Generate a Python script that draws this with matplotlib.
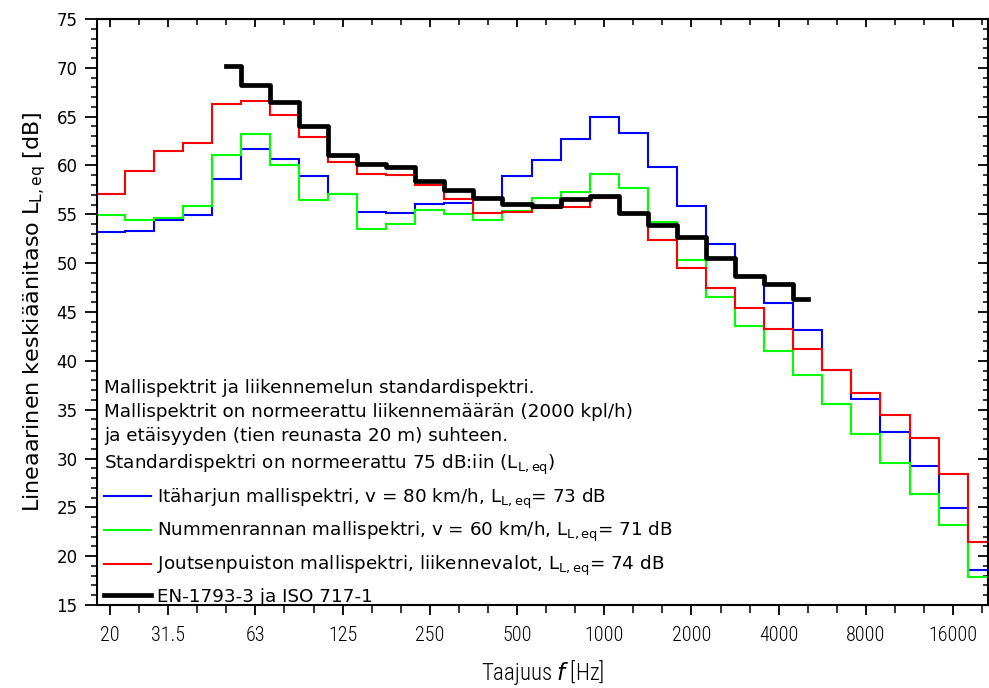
import numpy as np
import matplotlib.pyplot as plt
from matplotlib import font_manager
from matplotlib.lines import Line2D

# terssikaistat 20 Hz ... 20 kHz
bands = ["20", "25", "31.5", "40", "50", "63", "80", "100", "125", "160",
         "200", "250", "315", "400", "500", "630", "800", "1000", "1250", "1600",
         "2000", "2500", "3150", "4000", "5000", "6300", "8000", "10000", "12500",
         "16000", "20000"]
shown = ["20", "31.5", "63", "125", "250", "500", "1000", "2000", "4000",
         "8000", "16000"]

itaharju = [53.15, 53.3, 54.4, 54.95, 58.6, 61.7, 60.65, 58.9, 57.05, 55.25,
            55.1, 56.1, 56.15, 56.6, 58.9, 60.6, 62.7, 65.0, 63.3, 59.8,
            55.9, 52.0, 48.7, 45.95, 43.2, 39.1, 36.1, 32.7, 29.2, 24.9, 18.6]
nummenranta = [54.9, 54.4, 54.6, 55.9, 61.1, 63.2, 60.0, 56.5, 57.1, 53.5,
               54.0, 55.4, 55.0, 54.4, 55.3, 56.7, 57.3, 59.1, 57.65, 54.2,
               50.3, 46.55, 43.55, 41.05, 38.5, 35.6, 32.5, 29.55, 26.4, 23.15, 17.9]
joutsenpuisto = [57.05, 59.4, 61.5, 62.3, 66.3, 66.6, 65.2, 62.9, 60.35, 59.15,
                 59.0, 58.05, 56.6, 55.1, 55.25, 55.65, 55.7, 56.65, 55.05, 52.4,
                 49.5, 47.5, 45.4, 43.3, 41.2, 39.05, 36.7, 34.45, 32.1, 28.4, 21.5]
# standardispektri 50 Hz ... 5000 Hz
standardi = [70.2, 68.25, 66.45, 64.0, 61.05, 60.2, 59.8, 58.45, 57.5, 56.7,
             56.05, 55.85, 56.6, 56.9, 55.1, 53.9, 52.65, 50.5, 48.65, 47.85, 46.35]
std_first = bands.index("50")

# kapea fontti x-akselille, jos sellainen löytyy
names = {f.name for f in font_manager.fontManager.ttflist}
narrow = next((n for n in ["Liberation Sans Narrow", "Roboto Condensed",
                           "Open Sans Condensed", "DejaVu Sans Condensed"]
               if n in names), None)
if narrow:
    xfont = dict(family=narrow, weight='light')
else:
    xfont = dict(family="DejaVu Sans", stretch="condensed")

x = np.arange(len(bands))
edges = np.arange(len(bands) + 1) - 0.5
xs = x[std_first:std_first + len(standardi)]

fig = plt.figure(figsize=(9.89, 6.88), dpi=100)
ax = fig.add_axes([0.098, 0.1206, 0.901, 0.8518])

ax.stairs(itaharju, edges, baseline=None, color='#0000ff', lw=1.5)
ax.stairs(nummenranta, edges, baseline=None, color='#00ff00', lw=1.5)
ax.stairs(joutsenpuisto, edges, baseline=None, color='#ff0000', lw=1.5)
ax.step(xs, standardi, where='mid', color='k', lw=3.4)

ax.set_xlim(-0.45, 30.2)
ax.set_ylim(15, 75)

major_x = [bands.index(b) for b in shown]
ax.set_xticks(major_x)
ax.set_xticklabels(shown, fontsize=14.5, **xfont)
ax.set_xticks(x, minor=True)
ax.set_yticks(np.arange(15, 76, 5))
ax.set_yticks(np.arange(15, 76, 1), minor=True)
ax.tick_params(axis='y', which='major', direction='out', length=8.5, width=1.3,
               pad=5.5, labelsize=12)
ax.tick_params(axis='y', which='minor', direction='out', length=4.3, width=1.1)
ax.tick_params(axis='x', which='major', direction='out', length=7, width=1.3, pad=8)
ax.tick_params(axis='x', which='minor', direction='out', length=6, width=1.1)
for sp in ax.spines.values():
    sp.set_linewidth(1.5)

top = ax.secondary_xaxis('top')
top.set_xticks(major_x)
top.set_xticks(x, minor=True)
top.tick_params(which='major', direction='in', length=6, width=1.3, labeltop=False)
top.tick_params(which='minor', direction='in', length=4, width=1.1)
right = ax.secondary_yaxis('right')
right.set_yticks(np.arange(15, 76, 5))
right.set_yticks(np.arange(15, 76, 1), minor=True)
right.tick_params(which='major', direction='in', length=7, width=1.3, labelright=False)
right.tick_params(which='minor', direction='in', length=3.5, width=1.1)

ax.set_ylabel(r"Lineaarinen keskiäänitaso L$_{\mathregular{L,eq}}$ [dB]",
              fontsize=16, labelpad=6)
ax.set_xlabel(r"Taajuus $f$ [Hz]", fontsize=16.5, labelpad=9, **xfont)

handles = [Line2D([], [], color='#0000ff', lw=1.5),
           Line2D([], [], color='#00ff00', lw=1.5),
           Line2D([], [], color='#ff0000', lw=1.5),
           Line2D([], [], color='k', lw=3.4)]
labels = [r"Itäharjun mallispektri, v = 80 km/h, L$_{\mathregular{L,eq}}$= 73 dB",
          r"Nummenrannan mallispektri, v = 60 km/h, L$_{\mathregular{L,eq}}$= 71 dB",
          r"Joutsenpuiston mallispektri, liikennevalot, L$_{\mathregular{L,eq}}$= 74 dB",
          "EN-1793-3 ja ISO 717-1"]
title = ("Mallispektrit ja liikennemelun standardispektri.\n"
         "Mallispektrit on normeerattu liikennemäärän (2000 kpl/h)\n"
         "ja etäisyyden (tien reunasta 20 m) suhteen.\n"
         r"Standardispektri on normeerattu 75 dB:iin (L$_{\mathregular{L,eq}}$)")
leg = ax.legend(handles, labels, title=title, loc='lower left',
                bbox_to_anchor=(0.006, -0.004), frameon=False, fontsize=13.2,
                title_fontsize=13.2, alignment='left', handlelength=2.55,
                handletextpad=0.35, labelspacing=0.52, borderaxespad=0.0,
                borderpad=0.1)
leg.get_title().set_linespacing(1.45)

fig.savefig("out.png", dpi=100)
